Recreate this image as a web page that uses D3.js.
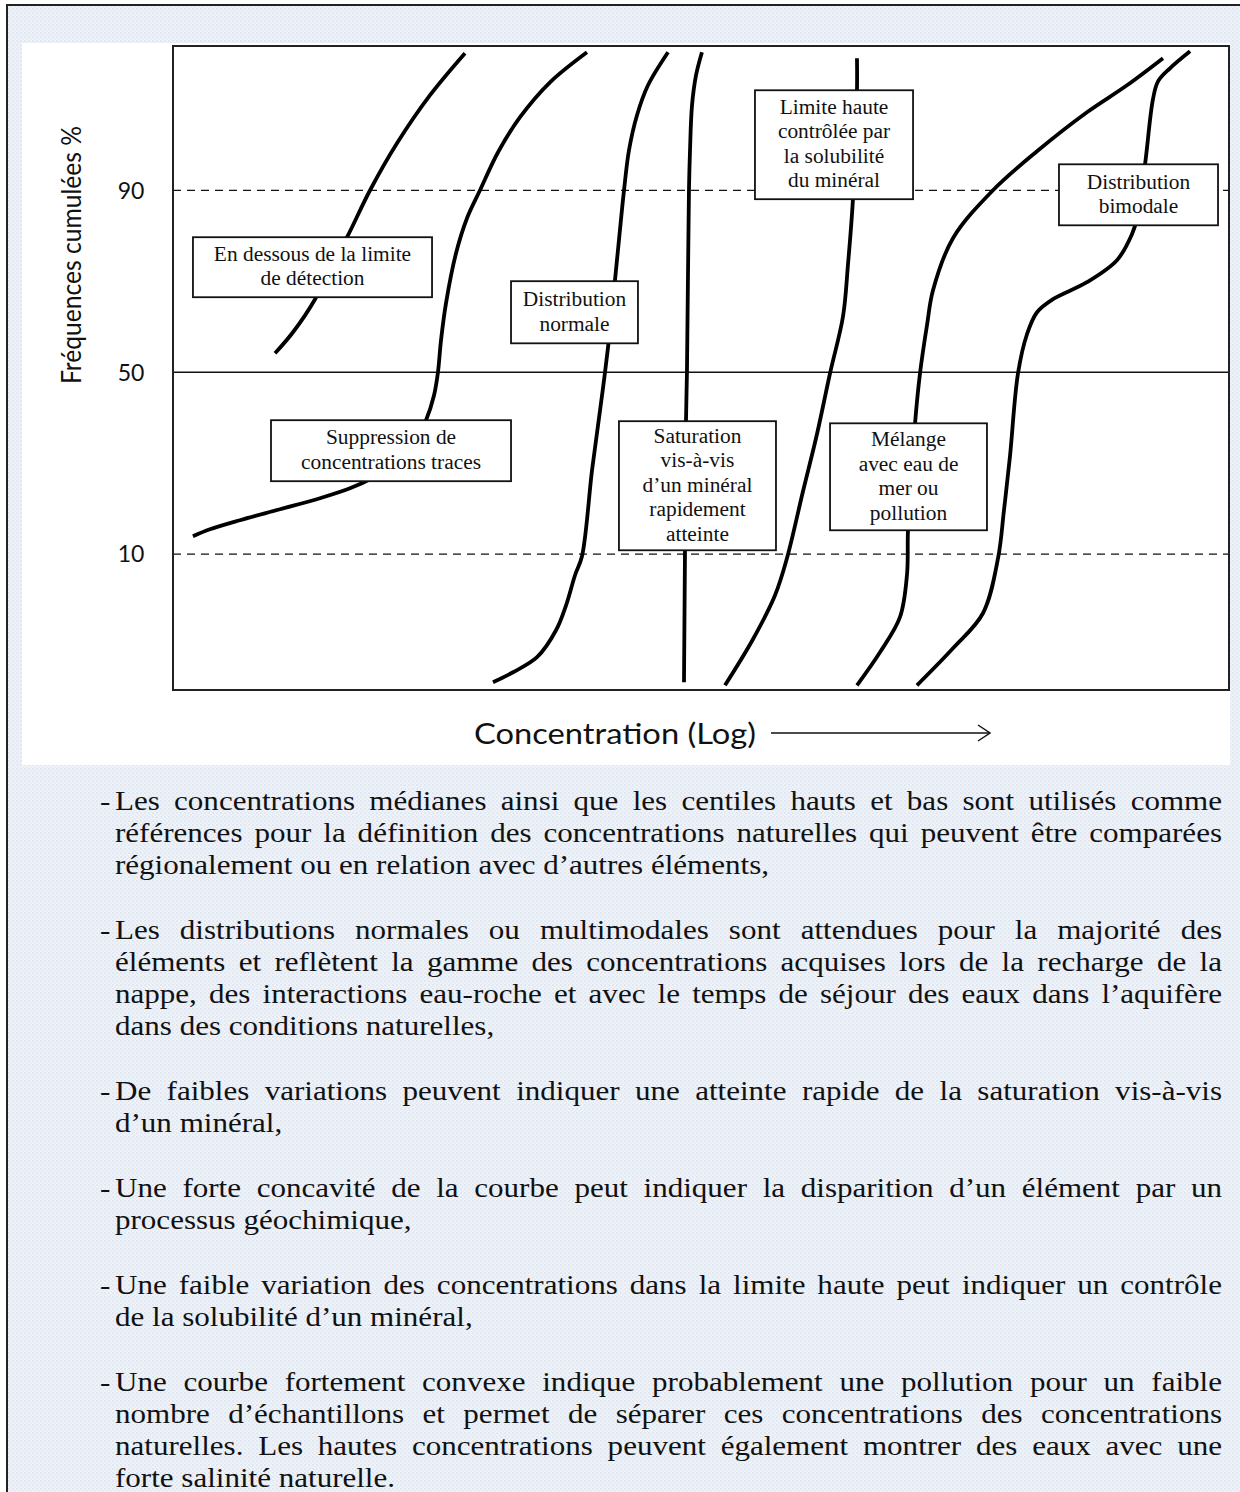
<!DOCTYPE html>
<html><head><meta charset="utf-8">
<script src="https://cdn.jsdelivr.net/npm/d3@7"></script>
<style>html,body{margin:0;padding:0;background:#fff;} svg{display:block;}</style>
</head><body>
<svg id="c" width="1240" height="1492"></svg>
<script>
// ---------------- DATA ----------------
// x: concentration (log, arbitrary units 0-100); y: normal score (probit) of the cumulative frequency
const yTickPercents = [10, 50, 90];
const refLinePercents = [10, 50, 90];
const refLineDashed = [true, false, true];

const curveDetection = [[9.66,0.134],[11.36,0.282],[13.45,0.515],[14.87,0.733],[16.48,0.952],[18.66,1.283],[21.21,1.614],[24.34,1.953],[27.65,2.249]];
const curveSuppression = [[1.89,-1.156],[3.50,-1.107],[6.34,-1.043],[10.13,-0.966],[13.92,-0.888],[16.76,-0.818],[18.84,-0.747],[21.02,-0.649],[22.73,-0.515],[23.96,-0.338],[24.72,-0.162],[25.09,0],[25.38,0.226],[25.85,0.486],[26.80,0.839],[27.84,1.086],[29.07,1.283],[30.78,1.551],[32.86,1.798],[35.70,2.044],[39.20,2.256]];
const curveNormal = [[30.30,-2.186],[32.20,-2.115],[34.47,-2.009],[36.27,-1.819],[37.22,-1.643],[38.07,-1.431],[38.73,-1.297],[39.68,-0.691],[40.44,-0.268],[40.91,0],[41.38,0.296],[41.76,0.578],[42.23,0.931],[42.71,1.283],[43.18,1.565],[43.94,1.812],[44.98,2.023],[46.88,2.256]];
const curveSaturation = [[48.39,-2.186],[48.48,-1.297],[48.58,-0.338],[48.67,0],[48.86,1.283],[48.96,1.565],[49.15,1.882],[49.53,2.094],[50.09,2.256]];
const curveUpperLimit = [[52.27,-2.207],[54.92,-1.882],[57.01,-1.572],[58.14,-1.311],[59.66,-0.839],[60.98,-0.437],[62.22,-0.007],[63.45,0.395],[63.92,0.761],[64.39,1.220],[64.77,1.974],[64.77,2.214]];
const curveMixing = [[64.77,-2.207],[66.95,-1.974],[68.84,-1.727],[69.51,-1.424],[69.60,-1.114],[69.98,-0.691],[70.27,-0.360],[70.74,-0.007],[71.40,0.331],[71.97,0.578],[73.86,0.945],[77.65,1.283],[81.82,1.558],[86.55,1.833],[90.34,2.023],[93.75,2.214]];
const curveBimodal = [[70.45,-2.207],[73.86,-1.946],[76.70,-1.699],[78.13,-1.311],[78.69,-0.973],[79.26,-0.592],[80.02,-0.007],[80.87,0.268],[81.82,0.423],[83.33,0.515],[86.55,0.635],[89.39,0.790],[90.81,0.973],[91.29,1.086],[92.05,1.466],[92.80,1.925],[93.28,2.051],[94.41,2.143],[96.31,2.263]];
const allCurves = [curveDetection, curveSuppression, curveNormal, curveSaturation, curveUpperLimit, curveMixing, curveBimodal];

const labelTexts = [
  ["En dessous de la limite","de détection"],
  ["Distribution","normale"],
  ["Suppression de","concentrations traces"],
  ["Saturation","vis-à-vis","d’un minéral","rapidement","atteinte"],
  ["Limite haute","contrôlée par","la solubilité","du minéral"],
  ["Mélange","avec eau de","mer ou","pollution"],
  ["Distribution","bimodale"]
];
// annotation extents in data space: [x0, x1, zTop, zBottom]
const labelExtents = [
  [1.89,24.53,0.952,0.529],
  [32.01,44.03,0.642,0.204],
  [9.28,32.01,-0.338,-0.768],
  [42.23,57.10,-0.345,-1.255],
  [55.11,70.08,1.988,1.220],
  [62.22,77.08,-0.360,-1.114],
  [83.90,98.96,1.466,1.036]
];

const yTitle = "Fréquences cumulées %";
const xTitle = "Concentration (Log)";

const paragraphs = [
  ["Les concentrations médianes ainsi que les centiles hauts et bas sont utilisés comme",
   "références pour la définition des concentrations naturelles qui peuvent être comparées",
   "régionalement ou en relation avec d’autres éléments,"],
  ["Les distributions normales ou multimodales sont attendues pour la majorité des",
   "éléments et reflètent la gamme des concentrations acquises lors de la recharge de la",
   "nappe, des interactions eau-roche et avec le temps de séjour des eaux dans l’aquifère",
   "dans des conditions naturelles,"],
  ["De faibles variations peuvent indiquer une atteinte rapide de la saturation vis-à-vis",
   "d’un minéral,"],
  ["Une forte concavité de la courbe peut indiquer la disparition d’un élément par un",
   "processus géochimique,"],
  ["Une faible variation des concentrations dans la limite haute peut indiquer un contrôle",
   "de la solubilité d’un minéral,"],
  ["Une courbe fortement convexe indique probablement une pollution pour un faible",
   "nombre d’échantillons et permet de séparer ces concentrations des concentrations",
   "naturelles. Les hautes concentrations peuvent également montrer des eaux avec une",
   "forte salinité naturelle."]
];

// ---------------- LAYOUT ----------------
const W = 1240, H = 1492;
const plot = {left:173, top:46, right:1229, bottom:690};
const serif = "'Liberation Serif','Times New Roman',serif";
const sans = "Lato,'Open Sans','Liberation Sans',sans-serif";

function probit(p){ // Abramowitz & Stegun 26.2.23
  const q = p < 0.5 ? p : 1 - p;
  const t = Math.sqrt(-2*Math.log(q));
  const z = t - (2.515517 + 0.802853*t + 0.010328*t*t)/(1 + 1.432788*t + 0.189269*t*t + 0.001308*t*t*t);
  return p < 0.5 ? -z : z;
}

const svg = d3.select("#c");
const defs = svg.append("defs");
const pat = defs.append("pattern").attr("id","bg").attr("width",4).attr("height",4).attr("patternUnits","userSpaceOnUse");
pat.append("rect").attr("width",4).attr("height",4).attr("fill","#eef2f9");
pat.append("rect").attr("width",2).attr("height",2).attr("fill","#e2e8f2");
pat.append("rect").attr("x",2).attr("y",2).attr("width",2).attr("height",2).attr("fill","#e7ecf5");

svg.append("rect").attr("width",W).attr("height",H).attr("fill","#fff");
svg.append("rect").attr("x",7).attr("y",5).attr("width",W).attr("height",H)
  .attr("fill","url(#bg)").attr("stroke","#222").attr("stroke-width",2);
svg.append("rect").attr("x",22).attr("y",43).attr("width",1208).attr("height",722).attr("fill","#fff");

const x = d3.scaleLinear().domain([0,100]).range([plot.left, plot.right]);
const y = d3.scaleLinear().domain([-2.24, 2.30]).range([plot.bottom, plot.top]);

const g = svg.append("g");
// reference lines
g.selectAll("line.ref").data(refLinePercents).join("line").attr("class","ref")
  .attr("x1",plot.left).attr("x2",plot.right)
  .attr("y1",d=>y(probit(d/100))).attr("y2",d=>y(probit(d/100)))
  .attr("stroke","#111").attr("stroke-width",(d,i)=>refLineDashed[i]?1.3:1.6)
  .attr("stroke-dasharray",(d,i)=>refLineDashed[i]?"8,6":null);

// plot frame
g.append("rect").attr("x",plot.left).attr("y",plot.top)
  .attr("width",plot.right-plot.left).attr("height",plot.bottom-plot.top)
  .attr("fill","none").attr("stroke","#222").attr("stroke-width",2);

// curves
const line = d3.line().x(d=>x(d[0])).y(d=>y(d[1])).curve(d3.curveCatmullRom.alpha(0.5));
g.selectAll("path.curve").data(allCurves).join("path").attr("class","curve")
  .attr("d",line).attr("fill","none").attr("stroke","#000").attr("stroke-width",3.8)
  .attr("stroke-linecap","butt").attr("stroke-linejoin","round");

// annotation boxes
const boxes = g.selectAll("g.box").data(labelExtents).join("g").attr("class","box");
boxes.append("rect")
  .attr("x",d=>x(d[0])).attr("y",d=>y(d[2]))
  .attr("width",d=>x(d[1])-x(d[0])).attr("height",d=>y(d[3])-y(d[2]))
  .attr("fill","#fff").attr("stroke","#111").attr("stroke-width",1.8);
boxes.each(function(d,i){
  const lines = labelTexts[i];
  const cx = (x(d[0])+x(d[1]))/2, cy = (y(d[2])+y(d[3]))/2;
  const lh = 24.5;
  const sel = d3.select(this);
  lines.forEach((s,k)=>{
    const by = cy + (k-(lines.length-1)/2)*lh + 6;
    sel.append("text").attr("transform",`translate(${cx},${by}) scale(1.07,1)`)
      .attr("text-anchor","middle").attr("font-family",serif).attr("font-size",20).attr("fill","#111")
      .text(s);
  });
});

// y tick labels
g.selectAll("text.ytick").data(yTickPercents).join("text").attr("class","ytick")
  .attr("x",131).attr("y",d=>y(probit(d/100))).attr("dy","0.36em")
  .attr("text-anchor","middle").attr("font-family",sans).attr("font-size",23).attr("fill","#111")
  .text(d=>d);

// axis titles
svg.append("text").attr("transform","translate(81,255) rotate(-90)")
  .attr("text-anchor","middle").attr("font-family",sans).attr("font-size",27).attr("fill","#111")
  .attr("textLength",258).attr("lengthAdjust","spacingAndGlyphs").text(yTitle);
svg.append("text").attr("x",615).attr("y",744)
  .attr("text-anchor","middle").attr("font-family",sans).attr("font-size",29).attr("fill","#111")
  .attr("textLength",282).attr("lengthAdjust","spacingAndGlyphs").text(xTitle);
// arrow
svg.append("line").attr("x1",771).attr("x2",990).attr("y1",733).attr("y2",733).attr("stroke","#111").attr("stroke-width",1.5);
svg.append("path").attr("d","M978,725 L990,733 L978,741").attr("fill","none").attr("stroke","#111").attr("stroke-width",1.5);

// paragraphs (justified, glyphs slightly widened as in the reference)
const textLeft = 115, textRight = 1222, dashX = 100, stretch = 1.15;
let baseY = 810;
const lineGap = 32, paraGap = 65;
const tg = svg.append("g").attr("font-family",serif).attr("font-size",27).attr("fill","#111");
function word(str, px, py){
  return tg.append("text").attr("transform",`translate(${px},${py}) scale(${stretch},1)`).text(str);
}
paragraphs.forEach((para, pi)=>{
  if (pi>0) baseY += paraGap;
  word("-", dashX, baseY);
  para.forEach((ln, li)=>{
    if (li>0) baseY += lineGap;
    const last = li === para.length-1;
    if (last) { word(ln, textLeft, baseY); return; }
    const words = ln.split(" ");
    const nodes = words.map(w=>word(w, 0, baseY));
    const widths = nodes.map(n=>n.node().getComputedTextLength()*stretch);
    const total = d3.sum(widths);
    const gap = (textRight - textLeft - total)/(words.length-1);
    let cx = textLeft;
    nodes.forEach((n,k)=>{ n.attr("transform",`translate(${cx},${baseY}) scale(${stretch},1)`); cx += widths[k] + gap; });
  });
});
</script>
</body></html>
